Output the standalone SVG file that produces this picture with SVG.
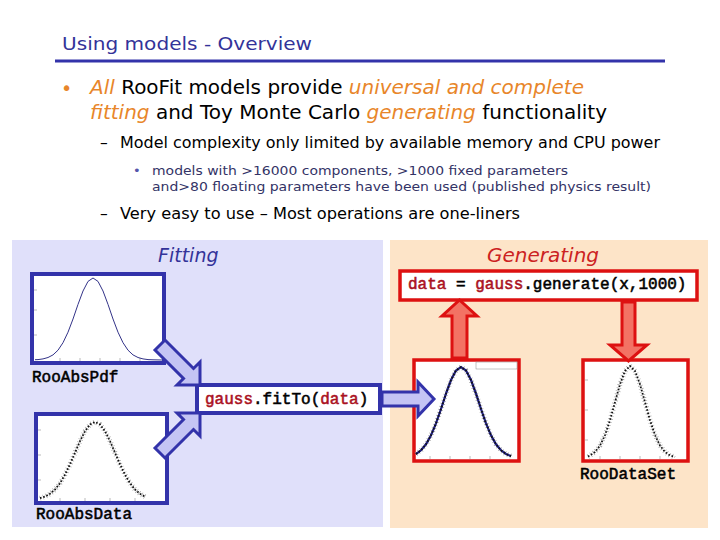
<svg xmlns="http://www.w3.org/2000/svg" width="720" height="540" viewBox="0 0 720 540">
<style>
.sans{font-family:"DejaVu Sans","Verdana",sans-serif}
.mono{font-family:"Liberation Mono","Courier New",monospace;font-size:16px;stroke-width:0.55}
.or{fill:#e8862a;font-style:italic}
.cr{fill:#aa1122;stroke:#aa1122}
.bbox{fill:#fff;stroke:#3333aa;stroke-width:4}
.rbox{fill:#fff;stroke:#dd1111;stroke-width:3.5}
.barrow{fill:#c4c4f4;stroke:#3333aa;stroke-width:3;stroke-linejoin:miter}
.rarrow{fill:#f37264;stroke:#dd1111;stroke-width:3;stroke-linejoin:miter}
.tick{stroke:#aaa;stroke-width:0.8}
.pts{fill:none;stroke:#111;stroke-width:1.8;stroke-dasharray:1.6 1.8}
.err{fill:none;stroke:#999;stroke-width:5;stroke-dasharray:0.6 2.6}
</style>
<rect width="720" height="540" fill="#fff"/>
<g id="header">
<text x="62" y="50" class="sans" font-size="18" fill="#333399" textLength="250" lengthAdjust="spacingAndGlyphs">Using models - Overview</text>
<rect x="55" y="59.5" width="610" height="3" fill="#3333aa"/>
</g>
<g id="bullets" class="sans">
<text x="61" y="95" font-size="19" fill="#e8862a">•</text>
<text x="90" y="94" font-size="19" fill="#000" textLength="494" lengthAdjust="spacingAndGlyphs"><tspan class="or">All</tspan> RooFit models provide <tspan class="or">universal and complete</tspan></text>
<text x="90" y="119" font-size="19" fill="#000" textLength="517" lengthAdjust="spacingAndGlyphs"><tspan class="or">fitting</tspan> and Toy Monte Carlo <tspan class="or">generating</tspan> functionality</text>
<text x="100" y="148" font-size="15.5" fill="#000">–</text>
<text x="120" y="148" font-size="15.5" fill="#000" textLength="540" lengthAdjust="spacingAndGlyphs">Model complexity only limited by available memory and CPU power</text>
<text x="133" y="175" font-size="13" fill="#5555aa">•</text>
<text x="152" y="175" font-size="13" fill="#333366" textLength="416" lengthAdjust="spacingAndGlyphs">models with &gt;16000 components, &gt;1000 fixed parameters</text>
<text x="152" y="191" font-size="13" fill="#333366" textLength="499" lengthAdjust="spacingAndGlyphs">and&gt;80 floating parameters have been used (published physics result)</text>
<text x="100" y="219" font-size="15.5" fill="#000">–</text>
<text x="120" y="219" font-size="15.5" fill="#000" textLength="400" lengthAdjust="spacingAndGlyphs">Very easy to use – Most operations are one-liners</text>
</g>
<g id="fitting-panel">
<rect x="12" y="240" width="371" height="287" fill="#e0e0fa"/>
<text x="158" y="262" class="sans" font-size="19" font-style="italic" fill="#333399">Fitting</text>
</g>
<g id="generating-panel">
<rect x="390" y="240" width="318" height="288" fill="#fde4c8"/>
<text x="487" y="262" class="sans" font-size="20" font-style="italic" fill="#cc2222">Generating</text>
</g>
<g id="roo-abs-pdf">
<rect x="32" y="274" width="132" height="89" class="bbox"/>
<path class="tick" d="M34,290h3M34,310h3M34,335h3M60,361v-3M80,361v-3M100,361v-3M120,361v-3M140,361v-3"/>
<polyline fill="none" stroke="#333388" stroke-width="1" points="35,359.7 38,359.6 43,358.9 48,357.5 53,354.9 58,350.2 63,342.7 68,332.2 73,319 78,304.4 83,291 88,281.4 93,278 98,281.4 103,291 108,304.4 113,319 118,332.2 123,342.7 128,350.2 133,354.9 138,357.5 143,358.9 148,359.6 153,359.8 162,360"/>
<text x="32" y="382" class="mono" fill="#000" stroke="#000">RooAbsPdf</text>
</g>
<g id="roo-abs-data">
<rect x="36" y="414" width="131" height="89" class="bbox"/>
<path class="tick" d="M38,430h3M38,455h3M38,480h3M60,501v-3M85,501v-3M110,501v-3M135,501v-3"/>
<polyline class="err" points="40,498.2 45,496.6 50,493.8 55,489.5 60,483.2 65,474.6 70,464.3 75,452.7 80,441.1 85,431.2 90,424.4 95,422 100,424.4 105,431.2 110,441.1 115,452.7 120,464.3 125,474.6 130,483.2 135,489.5 140,493.8 145,496.6"/>
<polyline class="pts" points="40,498.2 45,496.6 50,493.8 55,489.5 60,483.2 65,474.6 70,464.3 75,452.7 80,441.1 85,431.2 90,424.4 95,422 100,424.4 105,431.2 110,441.1 115,452.7 120,464.3 125,474.6 130,483.2 135,489.5 140,493.8 145,496.6"/>
<text x="36" y="519" class="mono" fill="#000" stroke="#000">RooAbsData</text>
</g>
<g id="fit-to">
<rect x="197" y="385" width="183" height="28" class="bbox"/>
<text x="205" y="404" class="mono" fill="#000" stroke="#000"><tspan class="cr">gauss</tspan>.fitTo(<tspan class="cr">data</tspan>)</text>
</g>
<g id="generate">
<rect x="400" y="271" width="297" height="29" class="rbox"/>
<text x="408" y="289" class="mono" fill="#000" stroke="#000"><tspan class="cr">data</tspan> = <tspan class="cr">gauss</tspan>.generate(x,1000)</text>
</g>
<g id="fit-result">
<rect x="414" y="360" width="105" height="101" class="rbox"/>
<path class="tick" d="M430,459v-3M450,459v-3M470,459v-3M490,459v-3"/>
<rect x="476" y="362" width="41" height="7" fill="none" stroke="#888" stroke-width="0.5"/>
<polyline class="err" points="416,454 421,450.3 426,444.3 431,435.3 436,423.3 441,409 446,393.7 451,380 456,370.5 461,367 466,370.5 471,380 476,393.7 481,409 486,423.3 491,435.3 496,444.3 501,450.3 506,454 511,456.1"/>
<polyline fill="none" stroke="#222288" stroke-width="2.2" points="416,454 421,450.3 426,444.3 431,435.3 436,423.3 441,409 446,393.7 451,380 456,370.5 461,367 466,370.5 471,380 476,393.7 481,409 486,423.3 491,435.3 496,444.3 501,450.3 506,454 511,456.1"/>
<polyline class="pts" points="416,454 421,450.3 426,444.3 431,435.3 436,423.3 441,409 446,393.7 451,380 456,370.5 461,367 466,370.5 471,380 476,393.7 481,409 486,423.3 491,435.3 496,444.3 501,450.3 506,454 511,456.1"/>
</g>
<g id="roo-data-set">
<rect x="583" y="360" width="105" height="101" class="rbox"/>
<path class="tick" d="M600,459v-3M620,459v-3M640,459v-3M660,459v-3M585,380h3M585,410h3M585,440h3"/>
<polyline class="err" points="588,456.5 590,455.4 595,452 600,445.6 605,435.1 610,420.2 615,402.2 620,384.3 625,371 630,366 635,371 640,384.3 645,402.2 650,420.2 655,435.1 660,445.6 665,452 670,455.4 675,457"/>
<polyline class="pts" points="588,456.5 590,455.4 595,452 600,445.6 605,435.1 610,420.2 615,402.2 620,384.3 625,371 630,366 635,371 640,384.3 645,402.2 650,420.2 655,435.1 660,445.6 665,452 670,455.4 675,457"/>
<text x="580" y="479" class="mono" fill="#000" stroke="#000">RooDataSet</text>
</g>
<g id="connectors">
<polygon class="barrow" points="155,350 165,340 193.5,368.5 200,362 200,385 177,385 183.5,378.5"/>
<polygon class="barrow" points="155,448 183.5,419.5 177,413 200,413 200,436 193.5,429.5 165,458"/>
<polygon class="barrow" points="382,392 418,392 418,382 434,399 418,416 418,406 382,406"/>
<polygon class="rarrow" points="452,358 452,316 442,316 459.5,300 477,316 467,316 467,358"/>
<polygon class="rarrow" points="622,302 622,345 610,345 628.5,361 647,345 635,345 635,302"/>
</g>
</svg>
